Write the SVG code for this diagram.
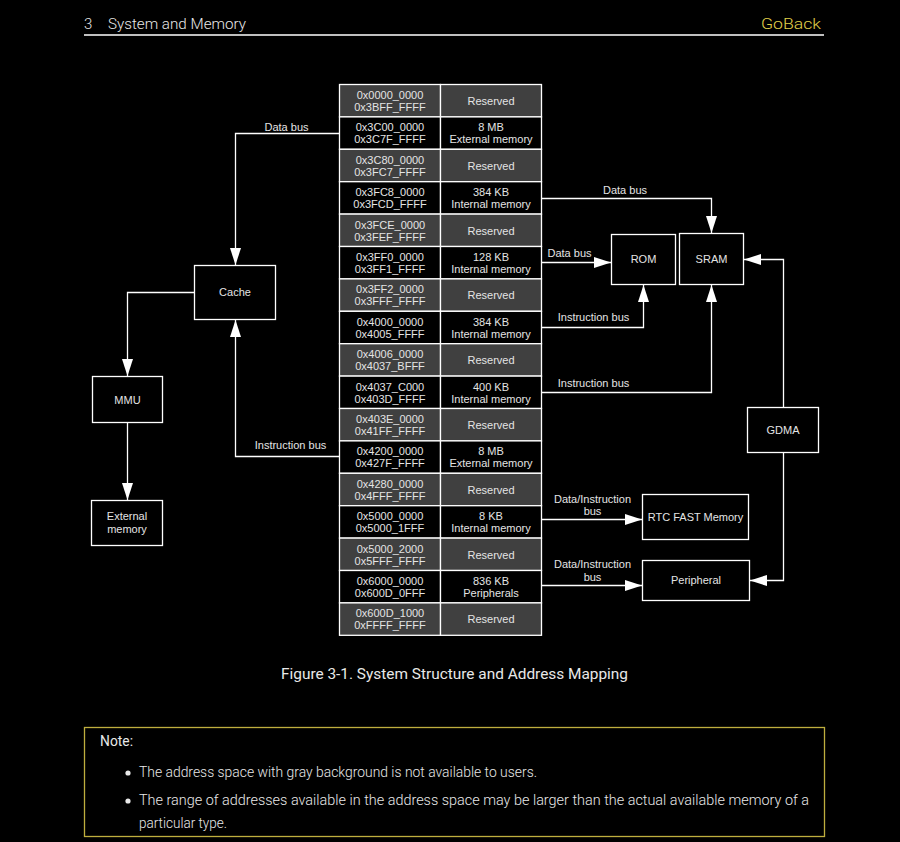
<svg xmlns="http://www.w3.org/2000/svg" width="900" height="842" viewBox="0 0 900 842">
<defs>
<style>
.bg{fill:#000}
.box{fill:#000;stroke:#fff;stroke-width:1.3}
.g{fill:#404040;stroke:#fff;stroke-width:1.3}
.k{fill:#000;stroke:#fff;stroke-width:1.3}
.t{font-family:"Liberation Sans",Arial,sans-serif;font-size:11px;fill:#e4e4e4;text-anchor:middle}
.c{fill:none;stroke:#fff;stroke-width:1.3}
.h{font-family:Roboto,"Liberation Sans",sans-serif;fill:#e8e8e8}
.l{font-weight:300}
</style>
<marker id="ah" viewBox="0 0 17 11" refX="17" refY="5.5" markerWidth="17" markerHeight="11" markerUnits="userSpaceOnUse" orient="auto">
<path d="M0,0 L17,5.5 L0,11 z" fill="#fff"/>
</marker>
</defs>
<rect class="bg" x="0" y="0" width="900" height="842"/>

<g id="header">
<text class="h l" x="84" y="29" font-size="15">3</text>
<text class="h l" x="108" y="29" font-size="15" textLength="138" lengthAdjust="spacingAndGlyphs">System and Memory</text>
<text class="l" x="761" y="29" font-size="15" font-family="Roboto,'Liberation Sans',sans-serif" fill="#e2d24a" textLength="60" lengthAdjust="spacingAndGlyphs">GoBack</text>
<line x1="84" y1="35" x2="824" y2="35" stroke="#fff" stroke-width="1.3"/>
</g>

<g id="memory-map">
<g id="r1"><rect class="g" x="339.5" y="84.5" width="101" height="32.4"/><rect class="g" x="440.5" y="84.5" width="101" height="32.4"/>
<text class="t" x="390" y="99">0x0000_0000</text><text class="t" x="390" y="111">0x3BFF_FFFF</text><text class="t" x="491" y="105">Reserved</text></g>
<g id="r2"><rect class="k" x="339.5" y="116.9" width="101" height="32.4"/><rect class="k" x="440.5" y="116.9" width="101" height="32.4"/>
<text class="t" x="390" y="131.4">0x3C00_0000</text><text class="t" x="390" y="143.4">0x3C7F_FFFF</text><text class="t" x="491" y="131.4">8 MB</text><text class="t" x="491" y="143.4">External memory</text></g>
<g id="r3"><rect class="g" x="339.5" y="149.3" width="101" height="32.4"/><rect class="g" x="440.5" y="149.3" width="101" height="32.4"/>
<text class="t" x="390" y="163.8">0x3C80_0000</text><text class="t" x="390" y="175.8">0x3FC7_FFFF</text><text class="t" x="491" y="169.8">Reserved</text></g>
<g id="r4"><rect class="k" x="339.5" y="181.7" width="101" height="32.4"/><rect class="k" x="440.5" y="181.7" width="101" height="32.4"/>
<text class="t" x="390" y="196.2">0x3FC8_0000</text><text class="t" x="390" y="208.2">0x3FCD_FFFF</text><text class="t" x="491" y="196.2">384 KB</text><text class="t" x="491" y="208.2">Internal memory</text></g>
<g id="r5"><rect class="g" x="339.5" y="214.1" width="101" height="32.4"/><rect class="g" x="440.5" y="214.1" width="101" height="32.4"/>
<text class="t" x="390" y="228.6">0x3FCE_0000</text><text class="t" x="390" y="240.6">0x3FEF_FFFF</text><text class="t" x="491" y="234.6">Reserved</text></g>
<g id="r6"><rect class="k" x="339.5" y="246.5" width="101" height="32.4"/><rect class="k" x="440.5" y="246.5" width="101" height="32.4"/>
<text class="t" x="390" y="261">0x3FF0_0000</text><text class="t" x="390" y="273">0x3FF1_FFFF</text><text class="t" x="491" y="261">128 KB</text><text class="t" x="491" y="273">Internal memory</text></g>
<g id="r7"><rect class="g" x="339.5" y="278.9" width="101" height="32.4"/><rect class="g" x="440.5" y="278.9" width="101" height="32.4"/>
<text class="t" x="390" y="293.4">0x3FF2_0000</text><text class="t" x="390" y="305.4">0x3FFF_FFFF</text><text class="t" x="491" y="299.4">Reserved</text></g>
<g id="r8"><rect class="k" x="339.5" y="311.3" width="101" height="32.4"/><rect class="k" x="440.5" y="311.3" width="101" height="32.4"/>
<text class="t" x="390" y="325.8">0x4000_0000</text><text class="t" x="390" y="337.8">0x4005_FFFF</text><text class="t" x="491" y="325.8">384 KB</text><text class="t" x="491" y="337.8">Internal memory</text></g>
<g id="r9"><rect class="g" x="339.5" y="343.7" width="101" height="32.4"/><rect class="g" x="440.5" y="343.7" width="101" height="32.4"/>
<text class="t" x="390" y="358.2">0x4006_0000</text><text class="t" x="390" y="370.2">0x4037_BFFF</text><text class="t" x="491" y="364.2">Reserved</text></g>
<g id="r10"><rect class="k" x="339.5" y="376.1" width="101" height="32.4"/><rect class="k" x="440.5" y="376.1" width="101" height="32.4"/>
<text class="t" x="390" y="390.6">0x4037_C000</text><text class="t" x="390" y="402.6">0x403D_FFFF</text><text class="t" x="491" y="390.6">400 KB</text><text class="t" x="491" y="402.6">Internal memory</text></g>
<g id="r11"><rect class="g" x="339.5" y="408.5" width="101" height="32.4"/><rect class="g" x="440.5" y="408.5" width="101" height="32.4"/>
<text class="t" x="390" y="423">0x403E_0000</text><text class="t" x="390" y="435">0x41FF_FFFF</text><text class="t" x="491" y="429">Reserved</text></g>
<g id="r12"><rect class="k" x="339.5" y="440.9" width="101" height="32.4"/><rect class="k" x="440.5" y="440.9" width="101" height="32.4"/>
<text class="t" x="390" y="455.4">0x4200_0000</text><text class="t" x="390" y="467.4">0x427F_FFFF</text><text class="t" x="491" y="455.4">8 MB</text><text class="t" x="491" y="467.4">External memory</text></g>
<g id="r13"><rect class="g" x="339.5" y="473.3" width="101" height="32.4"/><rect class="g" x="440.5" y="473.3" width="101" height="32.4"/>
<text class="t" x="390" y="487.8">0x4280_0000</text><text class="t" x="390" y="499.8">0x4FFF_FFFF</text><text class="t" x="491" y="493.8">Reserved</text></g>
<g id="r14"><rect class="k" x="339.5" y="505.7" width="101" height="32.4"/><rect class="k" x="440.5" y="505.7" width="101" height="32.4"/>
<text class="t" x="390" y="520.2">0x5000_0000</text><text class="t" x="390" y="532.2">0x5000_1FFF</text><text class="t" x="491" y="520.2">8 KB</text><text class="t" x="491" y="532.2">Internal memory</text></g>
<g id="r15"><rect class="g" x="339.5" y="538.1" width="101" height="32.4"/><rect class="g" x="440.5" y="538.1" width="101" height="32.4"/>
<text class="t" x="390" y="552.6">0x5000_2000</text><text class="t" x="390" y="564.6">0x5FFF_FFFF</text><text class="t" x="491" y="558.6">Reserved</text></g>
<g id="r16"><rect class="k" x="339.5" y="570.5" width="101" height="32.4"/><rect class="k" x="440.5" y="570.5" width="101" height="32.4"/>
<text class="t" x="390" y="585">0x6000_0000</text><text class="t" x="390" y="597">0x600D_0FFF</text><text class="t" x="491" y="585">836 KB</text><text class="t" x="491" y="597">Peripherals</text></g>
<g id="r17"><rect class="g" x="339.5" y="602.9" width="101" height="32.4"/><rect class="g" x="440.5" y="602.9" width="101" height="32.4"/>
<text class="t" x="390" y="617.4">0x600D_1000</text><text class="t" x="390" y="629.4">0xFFFF_FFFF</text><text class="t" x="491" y="623.4">Reserved</text></g>
</g>

<g id="cache"><rect class="box" x="194.5" y="265.5" width="81" height="54"/><text class="t" x="235" y="296">Cache</text></g>
<g id="mmu"><rect class="box" x="92.5" y="376.5" width="70" height="46"/><text class="t" x="127.5" y="403.5">MMU</text></g>
<g id="external-memory"><rect class="box" x="91.5" y="500.5" width="71" height="45"/><text class="t" x="127" y="520">External</text><text class="t" x="127" y="533">memory</text></g>
<g id="rom"><rect class="box" x="611.5" y="234.5" width="64" height="50"/><text class="t" x="643.5" y="263">ROM</text></g>
<g id="sram"><rect class="box" x="679.5" y="233.5" width="64" height="51"/><text class="t" x="711.5" y="263">SRAM</text></g>
<g id="gdma"><rect class="box" x="747.5" y="407.5" width="71" height="45"/><text class="t" x="783" y="434">GDMA</text></g>
<g id="rtc-fast-memory"><rect class="box" x="642.5" y="494.5" width="106" height="45"/><text class="t" x="695.5" y="521">RTC FAST Memory</text></g>
<g id="peripheral"><rect class="box" x="642.5" y="560.5" width="107" height="40"/><text class="t" x="696" y="584">Peripheral</text></g>

<g id="connectors">
<polyline class="c" points="339,133.5 235.5,133.5 235.5,265" marker-end="url(#ah)"/>
<text class="t" x="286.5" y="131">Data bus</text>
<polyline class="c" points="339,456.5 235.5,456.5 235.5,320" marker-end="url(#ah)"/>
<text class="t" x="290.5" y="449">Instruction bus</text>
<polyline class="c" points="194,292.5 127.5,292.5 127.5,376" marker-end="url(#ah)"/>
<polyline class="c" points="127.5,423 127.5,500" marker-end="url(#ah)"/>
<polyline class="c" points="541,198.5 711.5,198.5 711.5,233" marker-end="url(#ah)"/>
<text class="t" x="625" y="194">Data bus</text>
<polyline class="c" points="541,262.5 611,262.5" marker-end="url(#ah)"/>
<text class="t" x="569.5" y="257">Data bus</text>
<polyline class="c" points="541,327.5 643.5,327.5 643.5,285" marker-end="url(#ah)"/>
<text class="t" x="593.5" y="321">Instruction bus</text>
<polyline class="c" points="541,392.5 711.5,392.5 711.5,285" marker-end="url(#ah)"/>
<text class="t" x="593.5" y="387">Instruction bus</text>
<polyline class="c" points="783.5,407 783.5,259.5 744,259.5" marker-end="url(#ah)"/>
<polyline class="c" points="783.5,453 783.5,580.5 750,580.5" marker-end="url(#ah)"/>
<polyline class="c" points="541,519.5 642,519.5" marker-end="url(#ah)"/>
<text class="t" x="592.5" y="502.5">Data/Instruction</text><text class="t" x="592.5" y="515">bus</text>
<polyline class="c" points="541,585.5 642,585.5" marker-end="url(#ah)"/>
<text class="t" x="592.5" y="568">Data/Instruction</text><text class="t" x="592.5" y="580.5">bus</text>
</g>

<g id="caption">
<text class="h" x="281" y="679" font-size="15" textLength="347" lengthAdjust="spacingAndGlyphs">Figure 3-1. System Structure and Address Mapping</text>
</g>

<g id="note">
<rect x="84.5" y="727.5" width="740" height="109" fill="none" stroke="#bfae3e" stroke-width="1.3"/>
<text class="h" x="100" y="746" font-size="14" textLength="33" lengthAdjust="spacingAndGlyphs">Note:</text>
<circle cx="128" cy="773" r="2.6" fill="#e8e8e8"/>
<text class="h l" x="139" y="777" font-size="14" textLength="398" lengthAdjust="spacingAndGlyphs">The address space with gray background is not available to users.</text>
<circle cx="128" cy="801" r="2.6" fill="#e8e8e8"/>
<text class="h l" x="139" y="805" font-size="14" textLength="670" lengthAdjust="spacingAndGlyphs">The range of addresses available in the address space may be larger than the actual available memory of a</text>
<text class="h l" x="139" y="828" font-size="14" textLength="88" lengthAdjust="spacingAndGlyphs">particular type.</text>
</g>
</svg>
